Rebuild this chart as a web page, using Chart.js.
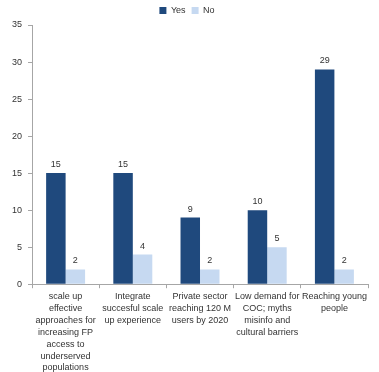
<!DOCTYPE html>
<html>
<head>
<meta charset="utf-8">
<script src="https://cdn.jsdelivr.net/npm/chart.js@4/dist/chart.umd.min.js"></script>
<style>
  html, body { margin: 0; padding: 0; background: #ffffff; }
  #wrap { width: 379px; height: 372px; }
</style>
</head>
<body>
<div id="wrap"><canvas id="c" width="379" height="372"></canvas></div>
<script>
// Survey topics (multi-line labels) and answer counts
const categories = [
  ["scale up", "effective", "approaches for", "increasing FP", "access to", "underserved", "populations"],
  ["Integrate", "succesful scale", "up experience"],
  ["Private sector", "reaching 120 M", "users by 2020"],
  ["Low demand for", "COC; myths", "misinfo and", "cultural barriers"],
  ["Reaching young", "people"]
];
const yesValues = [15, 15, 9, 10, 29];
const noValues = [2, 4, 2, 5, 2];
const yTicks = [0, 5, 10, 15, 20, 25, 30, 35];

const FONT = "'Liberation Sans', Arial, sans-serif";

// Writes each bar's value just above it
const valueLabels = {
  id: 'valueLabels',
  afterDatasetsDraw(chart) {
    const ctx = chart.ctx;
    ctx.save();
    ctx.font = "9px " + FONT;
    ctx.fillStyle = '#333333';
    ctx.textAlign = 'center';
    ctx.textBaseline = 'bottom';
    chart.data.datasets.forEach((ds, i) => {
      chart.getDatasetMeta(i).data.forEach((bar, j) => {
        ctx.fillText(String(ds.data[j]), bar.x, bar.y - 4);
      });
    });
    ctx.restore();
  }
};

new Chart(document.getElementById('c'), {
  type: 'bar',
  data: {
    labels: categories,
    datasets: [
      { label: 'Yes', data: yesValues, backgroundColor: '#1f497d' },
      { label: 'No', data: noValues, backgroundColor: '#c6d9f1' }
    ]
  },
  options: {
    responsive: false,
    animation: false,
    layout: { padding: { top: 0, right: 11, left: 6, bottom: -4 } },
    datasets: { bar: { categoryPercentage: 0.58, barPercentage: 1.0 } },
    plugins: {
      legend: {
        position: 'top',
        align: 'center',
        labels: {
          boxWidth: 7, boxHeight: 7, padding: 6,
          color: '#333333',
          font: { family: FONT, size: 9 }
        }
      },
      tooltip: { enabled: false }
    },
    scales: {
      x: {
        grid: {
          display: true, drawOnChartArea: false, drawTicks: true,
          tickLength: 4, color: '#a6a6a6', offset: true
        },
        border: { color: '#a6a6a6' },
        ticks: {
          color: '#333333', maxRotation: 0, autoSkip: false, padding: 2,
          font: { family: FONT, size: 9, lineHeight: 1.33 }
        }
      },
      y: {
        min: 0, max: 35,
        afterBuildTicks(scale) { scale.ticks = yTicks.map(v => ({ value: v })); },
        grid: {
          display: true, drawOnChartArea: false, drawTicks: true,
          tickLength: 4, color: '#a6a6a6'
        },
        border: { color: '#a6a6a6' },
        ticks: {
          color: '#333333', padding: 6,
          font: { family: FONT, size: 9 }
        }
      }
    }
  },
  plugins: [valueLabels]
});
</script>
</body>
</html>
